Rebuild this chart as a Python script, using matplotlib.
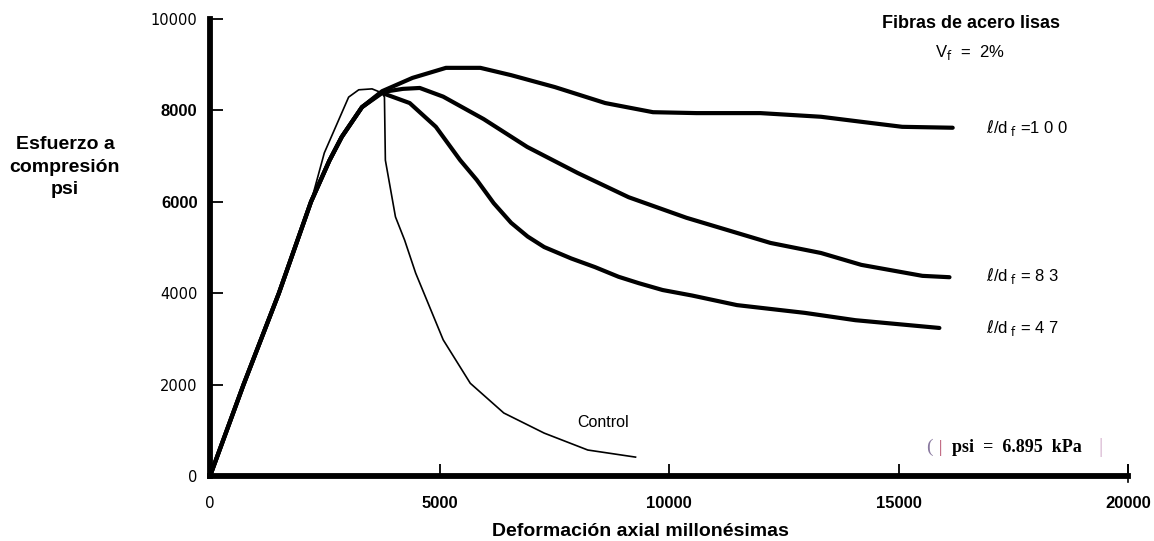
import matplotlib
matplotlib.use("Agg")
import matplotlib.pyplot as plt

# data (strain in millionths, stress in psi)
rise_x = [0, 730, 1500, 2200, 2600, 2870, 3310]
rise_y = [0, 2000, 4000, 6000, 6900, 7420, 8070]

ld100_x = rise_x + [3750, 4410, 5140, 5890, 6560, 7510, 8610, 9650, 10600, 11990, 13310, 14190, 15080, 16180]
ld100_y = rise_y + [8420, 8710, 8930, 8930, 8770, 8510, 8160, 7960, 7940, 7940, 7860, 7750, 7640, 7620]

ld83_x = rise_x + [3750, 4200, 4570, 5080, 5960, 6910, 8010, 9120, 10380, 12210, 13310, 14190, 15520, 16110]
ld83_y = rise_y + [8400, 8470, 8490, 8300, 7810, 7200, 6630, 6100, 5650, 5100, 4880, 4620, 4380, 4350]

ld47_x = rise_x + [3750, 4350, 4920, 5450, 5810, 6180, 6560, 6920, 7280, 7870, 8390, 8900, 9340, 9860,
                   10500, 11480, 12960, 14060, 15890]
ld47_y = rise_y + [8380, 8160, 7640, 6910, 6480, 5970, 5540, 5240, 5010, 4760, 4570, 4360, 4220, 4070,
                   3950, 3740, 3570, 3410, 3240]

control_x = [0, 730, 1500, 2200, 2490, 3020, 3240, 3530, 3750, 3800, 3820, 4040, 4240, 4480,
             5080, 5670, 6400, 7280, 8230, 9270]
control_y = [0, 2000, 4000, 6000, 7070, 8290, 8450, 8470, 8380, 8290, 6910, 5670, 5160, 4440,
             2980, 2030, 1380, 940, 570, 415]

x_ticks = [0, 5000, 10000, 15000, 20000]
y_ticks = [0, 2000, 4000, 6000, 8000, 10000]

sans = ['Liberation Sans', 'DejaVu Sans']

fig = plt.figure(figsize=(11.54, 5.41), dpi=100)
ax = fig.add_axes([0.182, 0.120, 0.7955, 0.845])

for xs, ys in [(ld100_x, ld100_y), (ld83_x, ld83_y), (ld47_x, ld47_y)]:
    ax.plot(xs, ys, color='black', lw=3.0, solid_capstyle='round', solid_joinstyle='round')
ax.plot(control_x, control_y, color='black', lw=1.2, solid_joinstyle='round')

ax.set_xlim(0, 20000)
ax.set_ylim(0, 10000)
for s in ['top', 'right']:
    ax.spines[s].set_visible(False)
ax.spines['left'].set_linewidth(4.2)
ax.spines['bottom'].set_linewidth(4.2)

ax.set_xticks(x_ticks)
ax.set_yticks(y_ticks)
ax.tick_params(axis='y', direction='in', length=9, width=1.3, pad=9)
ax.tick_params(axis='x', direction='in', length=9, width=1.3, pad=14)

ax.set_yticklabels([str(v) for v in y_ticks])
for lab, v in zip(ax.get_yticklabels(), y_ticks):
    if v in (6000, 8000):
        lab.set_family(sans)
        lab.set_fontweight('bold')
        lab.set_fontsize(12)
    else:
        lab.set_family(['DejaVu Sans'])
        lab.set_fontsize(10.5)

ax.set_xticklabels([str(v) for v in x_ticks])
for lab, v in zip(ax.get_xticklabels(), x_ticks):
    if v == 0:
        lab.set_family(['DejaVu Sans'])
        lab.set_fontsize(11)
    else:
        lab.set_family(sans)
        lab.set_fontweight('bold')
        lab.set_fontsize(12)

# axis titles
fig.text(65 / 1154, 1 - 167 / 541, 'Esfuerzo a\ncompresión\npsi', ha='center', va='center',
         family=sans, fontweight='bold', fontsize=14, linespacing=1.45)
fig.text(640 / 1154, 1 - 531 / 541, 'Deformación axial millonésimas', ha='center', va='center',
         family=sans, fontweight='bold', fontsize=14)

# annotations
fig.text(971 / 1154, 1 - 23 / 541, 'Fibras de acero lisas', ha='center', va='center',
         family=sans, fontweight='bold', fontsize=13)
fig.text(970 / 1154, 1 - 53 / 541, r'V$_\mathrm{f}$  =  2%', ha='center', va='center',
         family=sans, fontsize=12)

ax.text(16900, 7620, r'$\ell$/d$_{\ \mathrm{f}}$ =1 0 0', ha='left', va='center', fontsize=12, family=sans)
ax.text(16900, 4380, r'$\ell$/d$_{\ \mathrm{f}}$ = 8 3', ha='left', va='center', fontsize=12, family=sans)
ax.text(16900, 3230, r'$\ell$/d$_{\ \mathrm{f}}$ = 4 7', ha='left', va='center', fontsize=12, family=sans)

ax.text(8000, 1180, 'Control', ha='left', va='center', fontsize=11.5, family=sans)

ax.text(15600, 620, '(', ha='left', va='center', fontsize=14, color='#8a7aa0', family=['Liberation Serif'])
ax.text(15880, 620, '|', ha='left', va='center', fontsize=12, color='#b04060', family=['Liberation Serif'])
ax.text(16170, 620, 'psi  =  6.895  kPa', ha='left', va='center', fontsize=13, fontweight='bold',
        family=['Liberation Serif'])
ax.text(19350, 620, '|', ha='left', va='center', fontsize=15, color='#d0a8c8', family=['Liberation Serif'])

# small end mark at 20000
ax.plot([20000, 20000], [-120, 250], color='black', lw=1.2, clip_on=False)

fig.savefig('out.png', dpi=100)
